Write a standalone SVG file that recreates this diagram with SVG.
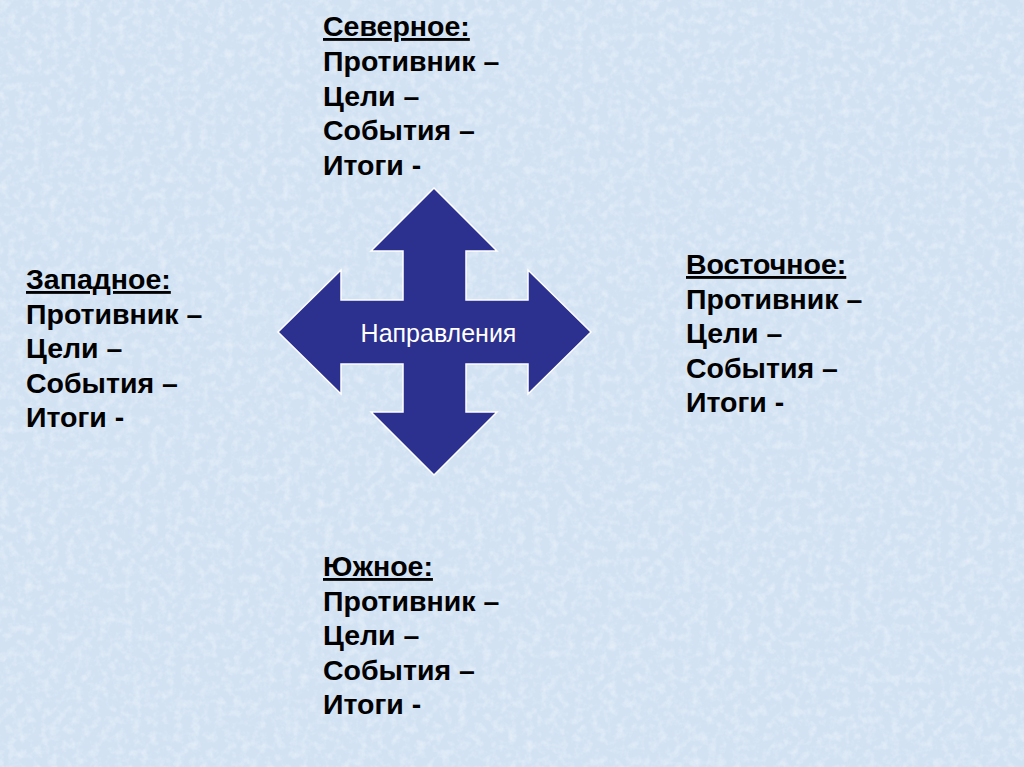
<svg xmlns="http://www.w3.org/2000/svg" width="1024" height="767" viewBox="0 0 1024 767">
<defs>
<style>
.t{font-family:"Liberation Sans",Arial,sans-serif;font-weight:bold;font-size:28.5px;fill:#000}
.h{text-decoration:underline}
.c{font-family:"Liberation Sans",Arial,sans-serif;font-size:25px;fill:#fff}
</style>
<filter id="tex" x="0" y="0" width="100%" height="100%">
<feTurbulence type="fractalNoise" baseFrequency="0.12" numOctaves="3" seed="4" result="n"/>
<feColorMatrix in="n" type="matrix" values="0 0 0 0 1  0 0 0 0 1  0 0 0 0 1  0 0 0 -2 1.15" result="w"/>
<feComposite in="w" in2="SourceGraphic" operator="in"/>
</filter>
</defs>
<rect width="1024" height="767" fill="#D2E2F3"/>
<rect width="1024" height="767" fill="#D2E2F3" filter="url(#tex)" opacity="0.4"/>
<g id="connectors"/>
<g id="center">
<path d="M434,188 L497,251 L466,251 L466,300 L528,300 L528,270 L591,332 L528,394 L528,364 L466,364 L466,412 L497,412 L434,475 L371,412 L403,412 L403,364 L341,364 L341,394 L278,332 L341,270 L341,300 L403,300 L403,251 L371,251 Z" fill="#2C308E" stroke="#FFFFFF" stroke-width="1.5" stroke-linejoin="miter"/>
<text class="c" x="438.5" y="341.5" text-anchor="middle">Направления</text>
</g>
<g id="north">
<text class="t h" x="323" y="36">Северное:</text>
<text class="t" x="323" y="71">Противник –</text>
<text class="t" x="323" y="105.5">Цели –</text>
<text class="t" x="323" y="140">События –</text>
<text class="t" x="323" y="174.5">Итоги -</text>
</g>
<g id="west">
<text class="t h" x="26" y="289">Западное:</text>
<text class="t" x="26" y="323.5">Противник –</text>
<text class="t" x="26" y="358">Цели –</text>
<text class="t" x="26" y="392.5">События –</text>
<text class="t" x="26" y="427">Итоги -</text>
</g>
<g id="east">
<text class="t h" x="686" y="274">Восточное:</text>
<text class="t" x="686" y="308.5">Противник –</text>
<text class="t" x="686" y="343">Цели –</text>
<text class="t" x="686" y="377.5">События –</text>
<text class="t" x="686" y="412">Итоги -</text>
</g>
<g id="south">
<text class="t h" x="323" y="576">Южное:</text>
<text class="t" x="323" y="610.5">Противник –</text>
<text class="t" x="323" y="645">Цели –</text>
<text class="t" x="323" y="679.5">События –</text>
<text class="t" x="323" y="714">Итоги -</text>
</g>
</svg>
